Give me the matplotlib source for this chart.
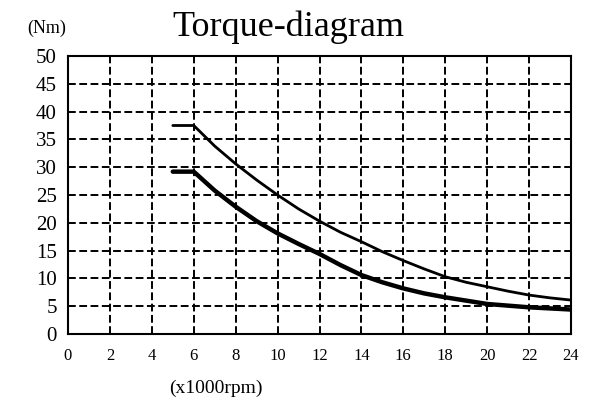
import matplotlib
matplotlib.use('Agg')
import matplotlib.pyplot as plt

# Speed in x1000 rpm and torque in Nm
speed = [5, 6, 7, 8, 9, 10, 11, 12, 13, 14, 15, 16, 17, 18, 19, 20, 21, 22, 23, 24]
torque_upper = [37.5, 37.5, 33.8, 30.6, 27.7, 25.0, 22.5, 20.3, 18.3, 16.6, 14.8, 13.2,
                11.7, 10.3, 9.3, 8.5, 7.7, 7.0, 6.5, 6.1]
torque_lower = [29.2, 29.2, 25.8, 22.9, 20.3, 18.1, 16.2, 14.4, 12.4, 10.6, 9.3, 8.2,
                7.3, 6.6, 6.0, 5.4, 5.1, 4.8, 4.6, 4.4]
x_ticks = list(range(0, 25, 2))
y_ticks = list(range(0, 51, 5))

plt.rcParams['font.family'] = ['Liberation Serif', 'DejaVu Serif']

fig = plt.figure(figsize=(5.89, 4.05), dpi=100)
ax = fig.add_axes([68 / 589, 1 - 334 / 405, (571 - 68) / 589, (334 - 56) / 405])

# Curves
ax.plot(speed, torque_upper, color='black', linewidth=2.0, solid_capstyle='round')
ax.plot(speed, torque_lower, color='black', linewidth=3.2, solid_capstyle='round')

# Axes range and ticks
ax.set_xlim(0, 24)
ax.set_ylim(0, 50)
ax.set_xticks(x_ticks)
ax.set_yticks(y_ticks)
ax.tick_params(length=0)
ax.tick_params(axis='x', labelsize=12, pad=10)
ax.tick_params(axis='y', labelsize=15, pad=8)

# Dashed grid
ax.grid(True, color='black', linestyle=(0, (4, 1.8)), linewidth=1.4)
ax.set_axisbelow(True)
for s in ax.spines.values():
    s.set_linewidth(1.5)

# Texts
fig.text(288 / 589, 1 - 27 / 405, 'Torque-diagram', fontsize=26, ha='center', va='center')
fig.text(47 / 589, 1 - 28 / 405, '(Nm)', fontsize=13, ha='center', va='center')
fig.text(216 / 589, 1 - 388 / 405, '(x1000rpm)', fontsize=14, ha='center', va='center')

plt.savefig('out.png', dpi=100)
